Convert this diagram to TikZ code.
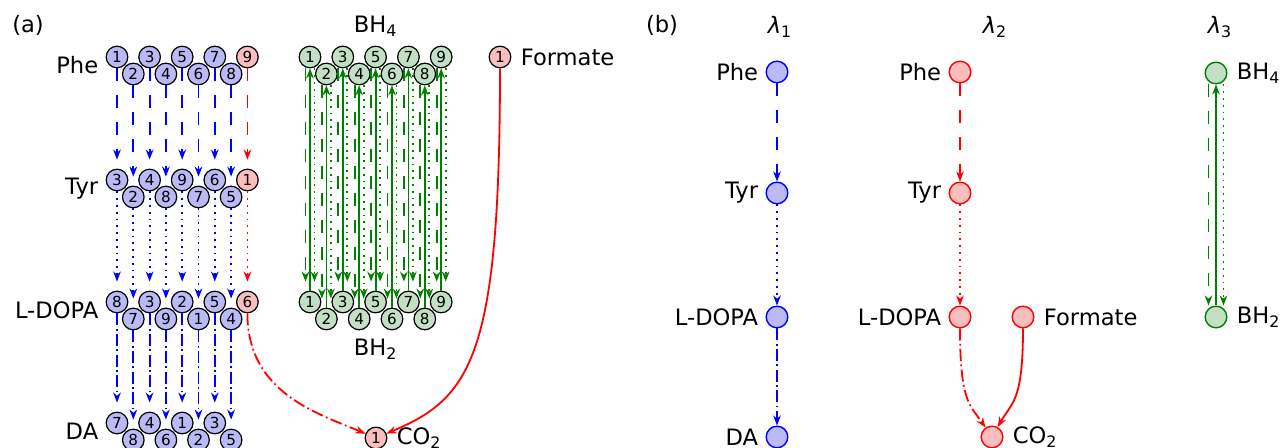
\documentclass[tikz,border=0pt]{standalone}
\usepackage{fontspec}
\setmainfont{DejaVu Sans}
\usepackage{tikz}
\usetikzlibrary{arrows.meta,positioning,calc}
\definecolor{atomblue}{RGB}{186,186,246}
\definecolor{atomred}{RGB}{250,190,190}
\definecolor{atomgreen}{RGB}{196,224,196}
\definecolor{bondgreen}{RGB}{0,128,0}
\def\ColSep{16.3}
\def\RowDrop{17}
\def\TipGap{4.5pt}
\tikzset{
	atom/.style={circle,draw=black,line width=0.6pt,minimum size=10.8pt,inner sep=0pt,font=\fontsize{7.6}{7.6}\selectfont},
	bluatom/.style={atom,fill=atomblue},
	redatom/.style={atom,fill=atomred},
	grnatom/.style={atom,fill=atomgreen},
	pool/.style={circle,line width=0.7pt,minimum size=10.8pt,inner sep=0pt},
	blupool/.style={pool,draw=blue,fill=atomblue},
	redpool/.style={pool,draw=red,fill=atomred},
	grnpool/.style={pool,draw=bondgreen,fill=atomgreen},
	mol/.style={font=\fontsize{11.3}{13}\selectfont,inner sep=3.5pt},
	flux/.style={line width=0.9pt,-{Stealth[length=5pt,width=3.8pt,inset=1.6pt]}},
	stepA/.style={dash pattern=on 6.5pt off 7pt},
	stepB/.style={dash pattern=on 0.9pt off 2.5pt},
	stepC/.style={dash pattern=on 6pt off 1.7pt on 0.9pt off 1.7pt},
}

\begin{document}
\begin{tikzpicture}[x=0.5pt,y=0.5pt]
	\useasboundingbox (0,0) rectangle (1281,448);
	% 
	% (a) atom rows, zig-zag by column
	\foreach \i/\n in {1/1,2/2,3/3,4/4,5/5,6/6,7/7,8/8}
		\node[bluatom] (phe\i) at ({117+\ColSep*(\i-1)},{391-\RowDrop*(1-mod(\i,2))}) {\n};
	\node[redatom] (phe9) at ({117+\ColSep*8},391) {9};
	\foreach \i/\n in {1/3,2/2,3/4,4/8,5/9,6/7,7/6,8/5}
		\node[bluatom] (tyr\i) at ({117+\ColSep*(\i-1)},{268-\RowDrop*(1-mod(\i,2))}) {\n};
	\node[redatom] (tyr9) at ({117+\ColSep*8},268) {1};
	\foreach \i/\n in {1/8,2/7,3/3,4/9,5/2,6/1,7/5,8/4}
		\node[bluatom] (dopa\i) at ({117+\ColSep*(\i-1)},{146-\RowDrop*(1-mod(\i,2))}) {\n};
	\node[redatom] (dopa9) at ({117+\ColSep*8},146) {6};
	\foreach \i/\n in {1/7,2/8,3/4,4/6,5/1,6/2,7/3,8/5}
		\node[bluatom] (da\i) at ({117+\ColSep*(\i-1)},{25-\RowDrop*(1-mod(\i,2))}) {\n};
	\foreach \i in {1,...,9}{
		\node[grnatom] (bhf\i) at ({310+16.4*(\i-1)},{391-\RowDrop*(1-mod(\i,2))}) {\i};
		\node[grnatom] (bht\i) at ({310+16.4*(\i-1)},{146-\RowDrop*(1-mod(\i,2))}) {\i};
	}
	\node[redatom] (aform) at (500,391) {1};
	\node[redatom] (aco) at (376,10) {1};
	% 
	% (a) names
	\node[mol] (la) at (28,423) {(a)};
	\node[mol,left=0pt of phe1,yshift=-4.25pt] (lphe) {Phe};
	\node[mol,left=0pt of tyr1,yshift=-4.25pt] (ltyr) {Tyr};
	\node[mol,left=0pt of dopa1,yshift=-4.25pt] (ldopa) {L-DOPA};
	\node[mol,left=0pt of da1,yshift=-4.25pt] (lda) {DA};
	\node[mol] (lbhf) at ($(bhf1)!0.5!(bhf9)+(0,31)$) {BH\textsubscript{4}};
	\node[mol] (lbht) at ($(bht1)!0.5!(bht9)+(0,-47)$) {BH\textsubscript{2}};
	\node[mol,right=1pt of aform] (lform) {Formate};
	\node[mol,right=1pt of aco] (lco) {CO\textsubscript{2}};
	% 
	% (a) atom transitions
	\foreach \i in {1,...,8}{
		\draw[flux,blue,stepA,shorten >=\TipGap] (phe\i) -- (tyr\i);
		\draw[flux,blue,stepB,shorten >=\TipGap] (tyr\i) -- (dopa\i);
		\draw[flux,blue,stepC,shorten >=\TipGap] (dopa\i) -- (da\i);
	}
	\draw[flux,red,stepA,shorten >=\TipGap] (phe9) -- (tyr9);
	\draw[flux,red,stepB,shorten >=\TipGap] (tyr9) -- (dopa9);
	\draw[flux,red,stepC] (dopa9) .. controls +(0,-90) and +(-60,25) .. (aco);
	\draw[flux,red] (aform) .. controls +(0,-300) and +(95,40) .. (aco);
	\foreach \i in {1,...,9}{
		\draw[flux,bondgreen,stepA,shorten >=\TipGap] ([xshift=-2.25pt]bhf\i.south) -- ([xshift=-2.25pt]bht\i.north);
		\draw[flux,bondgreen] (bht\i) -- (bhf\i);
		\draw[flux,bondgreen,stepB,shorten >=\TipGap] ([xshift=2.25pt]bhf\i.south) -- ([xshift=2.25pt]bht\i.north);
	}
	% 
	% (b) pools
	\node[mol] (lb) at (662,423) {(b)};
	\node[mol] (lam1) at (780,421) {{\itshape λ}\textsubscript{1}};
	\node[mol] (lam2) at (995,421) {{\itshape λ}\textsubscript{2}};
	\node[mol] (lam3) at (1220,421) {{\itshape λ}\textsubscript{3}};
	\node[blupool] (b1phe) at (777,376) {};
	\node[blupool] (b1tyr) at (777,255) {};
	\node[blupool] (b1dopa) at (777,131) {};
	\node[blupool] (b1da) at (777,11) {};
	\node[redpool] (b2phe) at (960,376) {};
	\node[redpool] (b2tyr) at (960,255) {};
	\node[redpool] (b2dopa) at (960,131) {};
	\node[redpool] (b2form) at (1023,131) {};
	\node[redpool] (b2co) at (992,11) {};
	\node[grnpool] (b3bhf) at (1216,375) {};
	\node[grnpool] (b3bht) at (1216,131) {};
	% 
	\node[mol,left=0pt of b1phe] (b1phel) {Phe};
	\node[mol,left=0pt of b1tyr] (b1tyrl) {Tyr};
	\node[mol,left=0pt of b1dopa] (b1dopal) {L-DOPA};
	\node[mol,left=0pt of b1da] (b1dal) {DA};
	\node[mol,left=0pt of b2phe] (b2phel) {Phe};
	\node[mol,left=0pt of b2tyr] (b2tyrl) {Tyr};
	\node[mol,left=0pt of b2dopa] (b2dopal) {L-DOPA};
	\node[mol,right=1pt of b2form] (b2forml) {Formate};
	\node[mol,right=1pt of b2co] (b2col) {CO\textsubscript{2}};
	\node[mol,right=1pt of b3bhf] (b3bhfl) {BH\textsubscript{4}};
	\node[mol,right=1pt of b3bht] (b3bhtl) {BH\textsubscript{2}};
	% 
	% (b) fluxes
	\draw[flux,blue,stepA] (b1phe) -- (b1tyr);
	\draw[flux,blue,stepB] (b1tyr) -- (b1dopa);
	\draw[flux,blue,stepC] (b1dopa) -- (b1da);
	\draw[flux,red,stepA] (b2phe) -- (b2tyr);
	\draw[flux,red,stepB] (b2tyr) -- (b2dopa);
	\draw[flux,red,stepC] (b2dopa) .. controls +(0,-85) and +(-22,32) .. (b2co);
	\draw[flux,red] (b2form) .. controls +(0,-85) and +(20,35) .. (b2co);
	\draw[flux,bondgreen,stepA] ([xshift=-3.75pt]b3bhf.south) -- ([xshift=-3.75pt]b3bht.north);
	\draw[flux,bondgreen] (b3bht) -- (b3bhf);
	\draw[flux,bondgreen,stepB] ([xshift=3.75pt]b3bhf.south) -- ([xshift=3.75pt]b3bht.north);
\end{tikzpicture}
\end{document}
